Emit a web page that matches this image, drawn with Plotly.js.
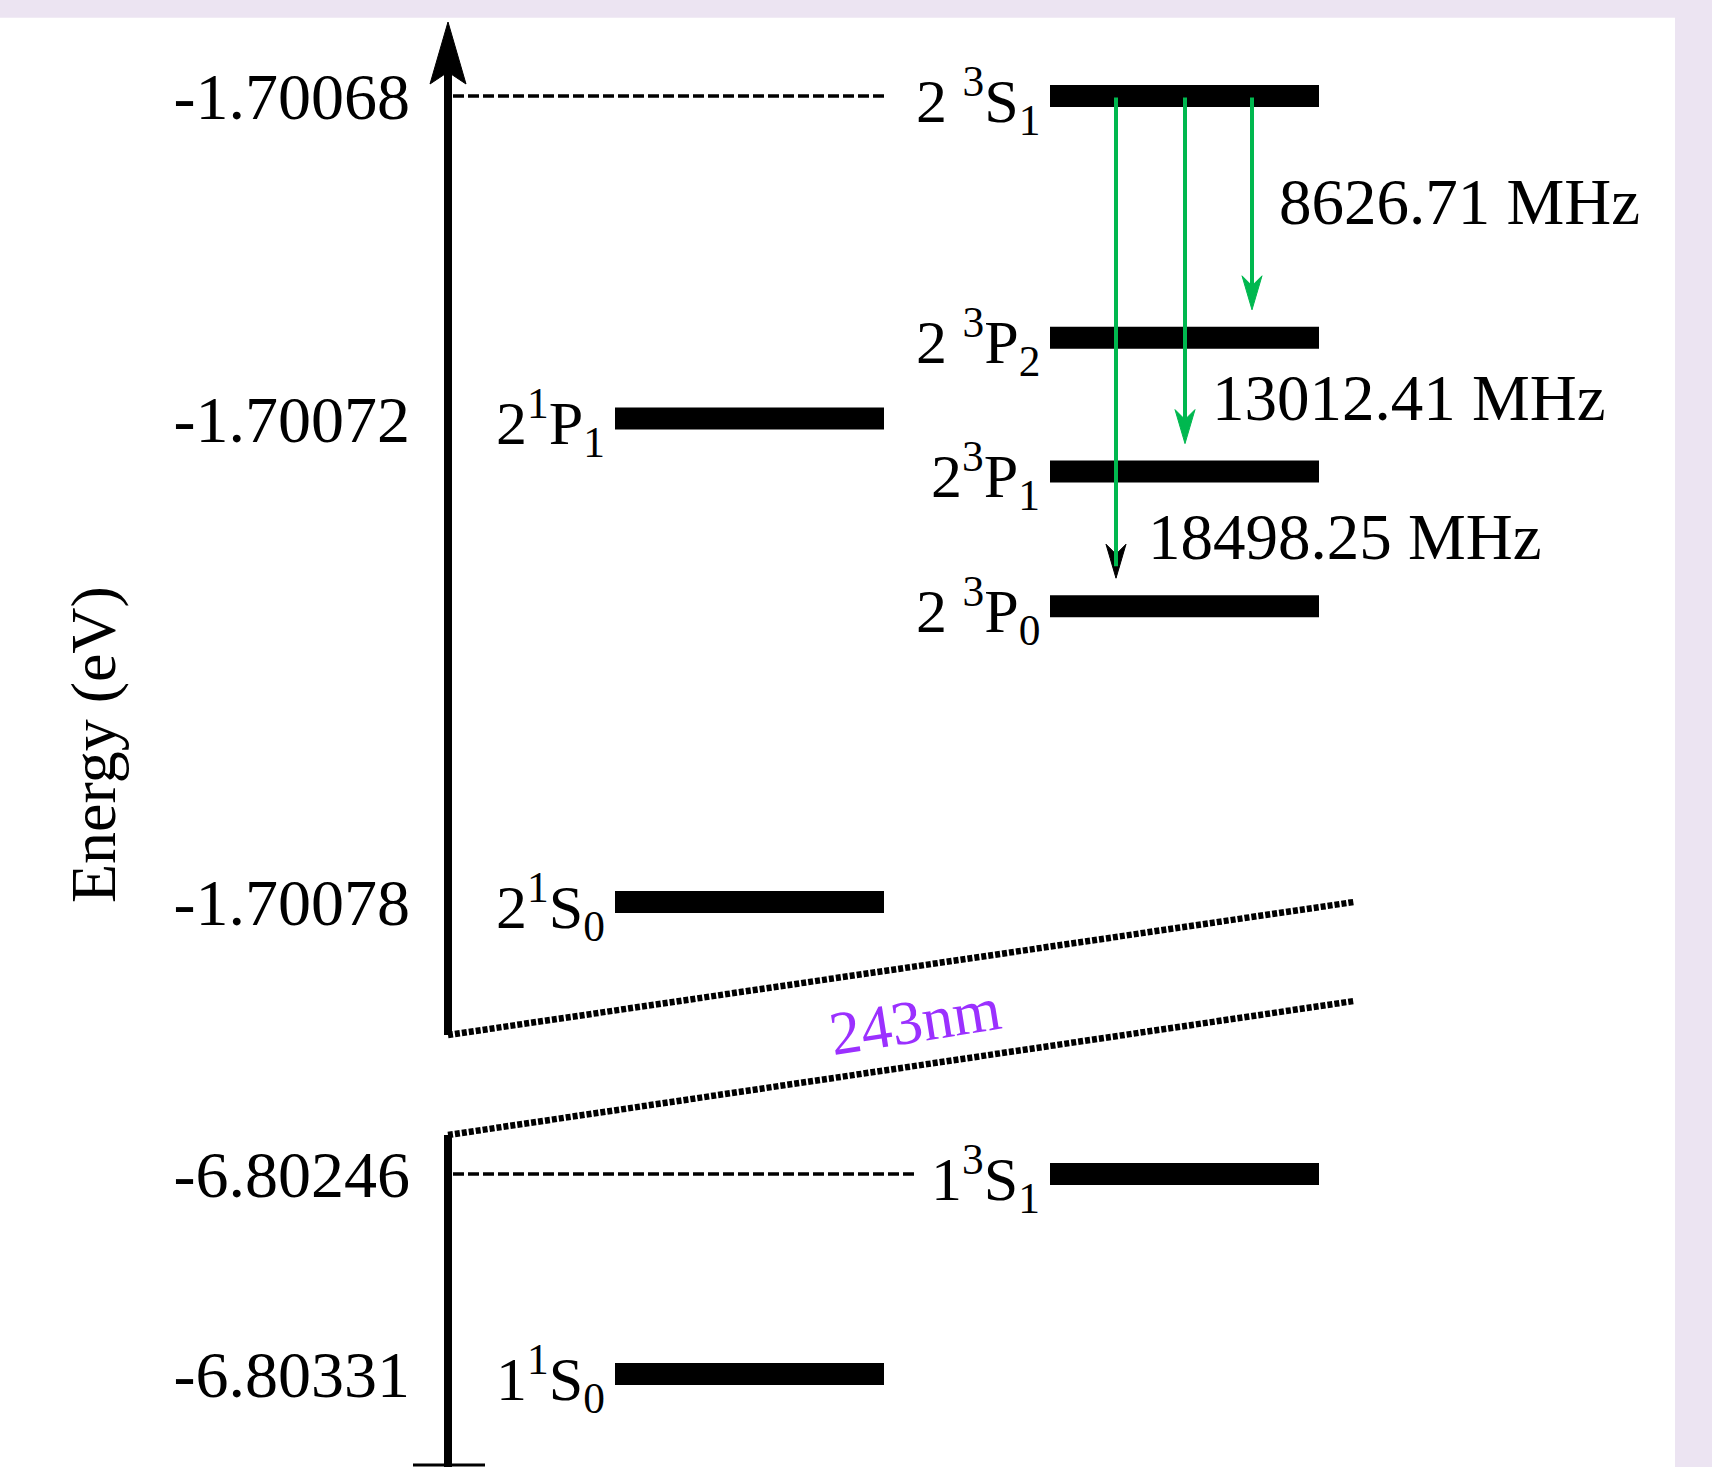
<!DOCTYPE html>
<html><head><meta charset="utf-8">
<script src="https://cdn.plot.ly/plotly-3.0.1.min.js"></script>
<style>html,body{margin:0;padding:0;background:#ECE4F2;} #chart{width:1712px;height:1467px;}</style>
</head><body><div id="chart"></div>
<script>
// ---------------- data ----------------
const upperTickValues = [-1.70068, -1.70072, -1.70078];
const lowerTickValues = [-6.80246, -6.80331];

const singletUpperNames = ['2<sup>1</sup>P<sub>1</sub>', '2<sup>1</sup>S<sub>0</sub>'];
const singletUpperEnergies = [-1.70072, -1.70078];

const tripletUpperNames = ['2 <sup>3</sup>S<sub>1</sub>', '2 <sup>3</sup>P<sub>2</sub>', '2<sup>3</sup>P<sub>1</sub>', '2 <sup>3</sup>P<sub>0</sub>'];
const tripletUpperEnergies = [-1.70068, -1.7007100, -1.7007266, -1.7007433];

const groundNames = ['1<sup>1</sup>S<sub>0</sub>', '1<sup>3</sup>S<sub>1</sub>'];
const groundEnergies = [-6.80331, -6.80246];
const groundColumns = ['singlet', 'triplet'];

const transitionLabels = ['8626.71 MHz', '13012.41 MHz', '18498.25 MHz'];
const transitionFrom = [-1.70068, -1.70068, -1.70068];
const transitionTo = [-1.7007100, -1.7007266, -1.7007433];

const laserLabel = '243nm';
const axisTitle = 'Energy (eV)';

// ---------------- layout constants ----------------
const W = 1712, H = 1467;
const FONT = 'Liberation Serif, Times New Roman, serif';
const COL = {singlet: [615, 884], triplet: [1050, 1319]};
const AXIS_X = 448;
const ARROW_X = [1252, 1185, 1116];
const GREEN = '#00B84F';
const HEAD_COLORS = [GREEN, GREEN, '#000000'];
const LABEL_PX = [[1277, 202], [1210, 398], [1146, 537]];
const upperAnchor = {E: -1.70068, px: 96, pxPerEV: 80.6e5};
const lowerAnchor = {E: -6.80246, px: 1174, pxPerEV: 200 / 0.00085};
function rangeFor(a) { return [a.E - (H - a.px) / a.pxPerEV, a.E + a.px / a.pxPerEV]; }
const px = x => x / W;
const py = y => 1 - y / H;

// ---------------- traces ----------------
const traces = [];
function bar(x01, E, axis) {
  return {type: 'scatter', mode: 'lines', x: x01, y: [E, E], yaxis: axis,
          line: {color: '#000', width: 22}, hoverinfo: 'skip', showlegend: false};
}
function dashed(x01, E, axis) {
  return {type: 'scatter', mode: 'lines', x: x01, y: [E, E], yaxis: axis,
          line: {color: '#000', width: 3.5, dash: '11px,4px'}, hoverinfo: 'skip', showlegend: false};
}
// guide dashed lines
traces.push(dashed([AXIS_X + 5, COL.singlet[1]], tripletUpperEnergies[0], 'y'));
traces.push(dashed([AXIS_X + 5, 915], groundEnergies[1], 'y2'));

singletUpperEnergies.forEach(E => traces.push(bar(COL.singlet, E, 'y')));
tripletUpperEnergies.forEach(E => traces.push(bar(COL.triplet, E, 'y')));
groundEnergies.forEach((E, i) => traces.push(bar(COL[groundColumns[i]], E, 'y2')));

// ---------------- annotations ----------------
const annotations = [];
function levelLabel(text, col, E, yref) {
  annotations.push({text, x: COL[col][0] - 8, y: E, xref: 'x', yref, xanchor: 'right', yanchor: 'middle',
    showarrow: false, font: {family: FONT, size: 62, color: '#000'}, yshift: -4});
}
singletUpperNames.forEach((t, i) => levelLabel(t, 'singlet', singletUpperEnergies[i], 'y'));
tripletUpperNames.forEach((t, i) => levelLabel(t, 'triplet', tripletUpperEnergies[i], 'y'));
groundNames.forEach((t, i) => levelLabel(t, groundColumns[i], groundEnergies[i], 'y2'));

// transition arrows (shafts) and labels
transitionTo.forEach((E, i) => {
  annotations.push({text: '', x: ARROW_X[i], y: E, xref: 'x', yref: 'y',
    ax: ARROW_X[i], ay: transitionFrom[i], axref: 'x', ayref: 'y',
    showarrow: true, arrowhead: 0, arrowwidth: 4, arrowcolor: GREEN, standoff: 40, startstandoff: 0});
  annotations.push({text: transitionLabels[i], x: px(LABEL_PX[i][0]), y: py(LABEL_PX[i][1]),
    xref: 'paper', yref: 'paper', xanchor: 'left', yanchor: 'middle', showarrow: false,
    font: {family: FONT, size: 65, color: '#000'}});
});

annotations.push({text: axisTitle, textangle: -90, x: px(93), y: py(745), xref: 'paper', yref: 'paper',
  xanchor: 'center', yanchor: 'middle', showarrow: false, font: {family: FONT, size: 64, color: '#000'}});
annotations.push({text: laserLabel, textangle: -9, x: px(915), y: py(1021), xref: 'paper', yref: 'paper',
  xanchor: 'center', yanchor: 'middle', showarrow: false, font: {family: FONT, size: 62, color: '#9B30FF'}});

// ---------------- shapes ----------------
const shapes = [];
shapes.push({type: 'rect', xref: 'paper', yref: 'paper', x0: 0, x1: px(1675), y0: 0, y1: py(17.7),
  fillcolor: '#FFFFFF', line: {width: 0}, layer: 'below'});
// vertical axis (upper, with arrow head)
shapes.push({type: 'line', xref: 'paper', yref: 'paper', x0: px(AXIS_X), x1: px(AXIS_X), y0: py(1035), y1: py(72),
  line: {color: '#000', width: 8}});
shapes.push({type: 'path', xref: 'paper', yref: 'paper',
  path: `M${px(AXIS_X)},${py(22)} L${px(AXIS_X - 18)},${py(84)} L${px(AXIS_X)},${py(72)} L${px(AXIS_X + 18)},${py(84)} Z`,
  fillcolor: '#000', line: {color: '#000', width: 1}});
// lower axis
shapes.push({type: 'line', xref: 'paper', yref: 'paper', x0: px(AXIS_X), x1: px(AXIS_X), y0: py(1135), y1: py(1467),
  line: {color: '#000', width: 8}});
shapes.push({type: 'line', xref: 'paper', yref: 'paper', x0: px(413), x1: px(485), y0: py(1465), y1: py(1465),
  line: {color: '#000', width: 3}});
// axis break lines
shapes.push({type: 'line', xref: 'paper', yref: 'paper', x0: px(AXIS_X), y0: py(1035), x1: px(1354), y1: py(902),
  line: {color: '#000', width: 6.5, dash: '5px,2px'}});
shapes.push({type: 'line', xref: 'paper', yref: 'paper', x0: px(AXIS_X), y0: py(1135), x1: px(1354), y1: py(1001),
  line: {color: '#000', width: 6.5, dash: '5px,2px'}});
// transition arrow heads
transitionTo.forEach((E, i) => {
  shapes.push({type: 'path', xref: 'x', yref: 'y', xsizemode: 'pixel', ysizemode: 'pixel',
    xanchor: ARROW_X[i], yanchor: E, path: 'M0,28 L-10,62 L0,52 L10,62 Z',
    fillcolor: HEAD_COLORS[i], line: {color: HEAD_COLORS[i], width: 1}, layer: 'above'});
});

const axisCommon = {anchor: 'free', position: px(AXIS_X), side: 'left', ticks: '', showline: false,
  showgrid: false, zeroline: false, fixedrange: true, ticklabelstandoff: 38,
  tickfont: {family: FONT, size: 66, color: '#000'}};

const layout = {
  width: W, height: H, autosize: false,
  margin: {l: 0, r: 0, t: 0, b: 0, pad: 0},
  paper_bgcolor: '#ECE4F2', plot_bgcolor: 'rgba(0,0,0,0)',
  showlegend: false, hovermode: false,
  xaxis: {range: [0, W], visible: false, fixedrange: true, domain: [0, 1]},
  yaxis: Object.assign({}, axisCommon, {range: rangeFor(upperAnchor), domain: [0, 1],
    tickvals: upperTickValues, ticktext: upperTickValues.map(v => v.toFixed(5))}),
  yaxis2: Object.assign({}, axisCommon, {overlaying: 'y', range: rangeFor(lowerAnchor),
    tickvals: lowerTickValues, ticktext: lowerTickValues.map(v => v.toFixed(5))}),
  shapes, annotations
};

Plotly.newPlot('chart', traces, layout, {displayModeBar: false, staticPlot: true});
</script>
</body></html>
